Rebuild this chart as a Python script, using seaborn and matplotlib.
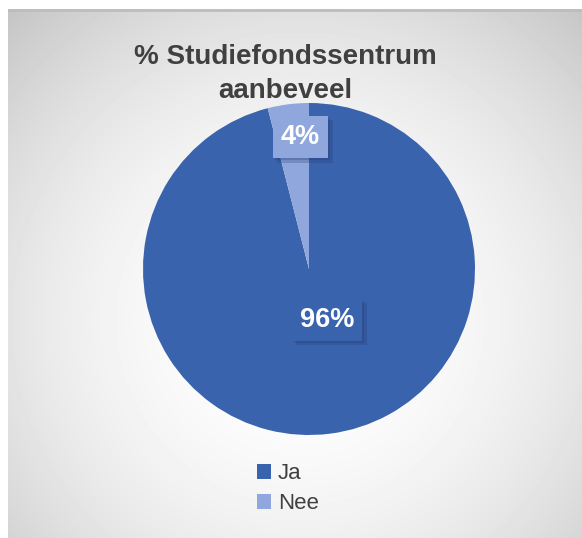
import numpy as np
import matplotlib
matplotlib.use("Agg")
import matplotlib.pyplot as plt
import matplotlib.patheffects as pe
import seaborn as sns

# data
labels = ["Ja", "Nee"]
values = [96, 4]
colors = ["#3A63AD", "#8FA7DC"]
title = "% Studiefondssentrum\naanbeveel"

sns.set_theme(style="white")
plt.rcParams["font.family"] = ["Liberation Sans", "DejaVu Sans"]

W, H = 582, 538
fig = plt.figure(figsize=(W / 100, H / 100), dpi=100)
fig.patch.set_facecolor("white")

# radial gradient background of the chart area
bx0, by0 = 8, 9
yy, xx = np.mgrid[by0:H, bx0:W]
d = np.hypot(xx - 300, yy - 320)
gray = 255 - 60 * (d / 430) ** 2
gray = np.clip(gray, 0, 255) / 255
bg = fig.add_axes([bx0 / W, 0, (W - bx0) / W, (H - by0) / H])
bg.imshow(gray, cmap="gray", vmin=0, vmax=1, aspect="auto", interpolation="bilinear")
bg.axhline(0.5, color="#BDBDBD", lw=2)
bg.set_axis_off()

# pie
cx, cy, r = 309, 269, 166
ax = fig.add_axes([(cx - r) / W, (H - cy - r) / H, 2 * r / W, 2 * r / H])
wedges, texts, autotexts = ax.pie(
    values, colors=colors, startangle=90, counterclock=False,
    autopct="%d%%", pctdistance=0.8, radius=1, frame=False,
    textprops=dict(color="white", fontsize=19.5, fontweight="bold"),
    wedgeprops=dict(linewidth=0),
)
ax.set_xlim(-1, 1)
ax.set_ylim(-1, 1)
ax.set_axis_off()

for w, t, c in zip(wedges, autotexts, colors):
    x, y = t.get_position()
    if w.theta2 - w.theta1 > 180:
        t.set_position((x * 0.31 / 0.8 + 0.07, y * 0.31 / 0.8))
    else:
        t.set_position((x + 0.05, y))
    t.set_bbox(dict(boxstyle="square,pad=0.3", facecolor=c, edgecolor="none"))
    t.get_bbox_patch().set_path_effects([
        pe.SimplePatchShadow(offset=(3, -3), shadow_rgbFace="#203870", alpha=0.25),
        pe.SimplePatchShadow(offset=(1.5, -1.5), shadow_rgbFace="#203870", alpha=0.25),
        pe.Normal(),
    ])

fig.text(0.49, 1 - 74 / H, title, ha="center", va="center", fontsize=20,
         fontweight="bold", color="#404040", linespacing=1.35)

fig.legend(wedges, labels, loc="upper left",
           bbox_to_anchor=(257 / W, 1 - 463 / H), frameon=False,
           fontsize=16, handlelength=0.65, handleheight=0.65, handletextpad=0.3,
           labelspacing=0.42, labelcolor="#404040", borderaxespad=0, borderpad=0)

fig.savefig("out.png", dpi=100)
